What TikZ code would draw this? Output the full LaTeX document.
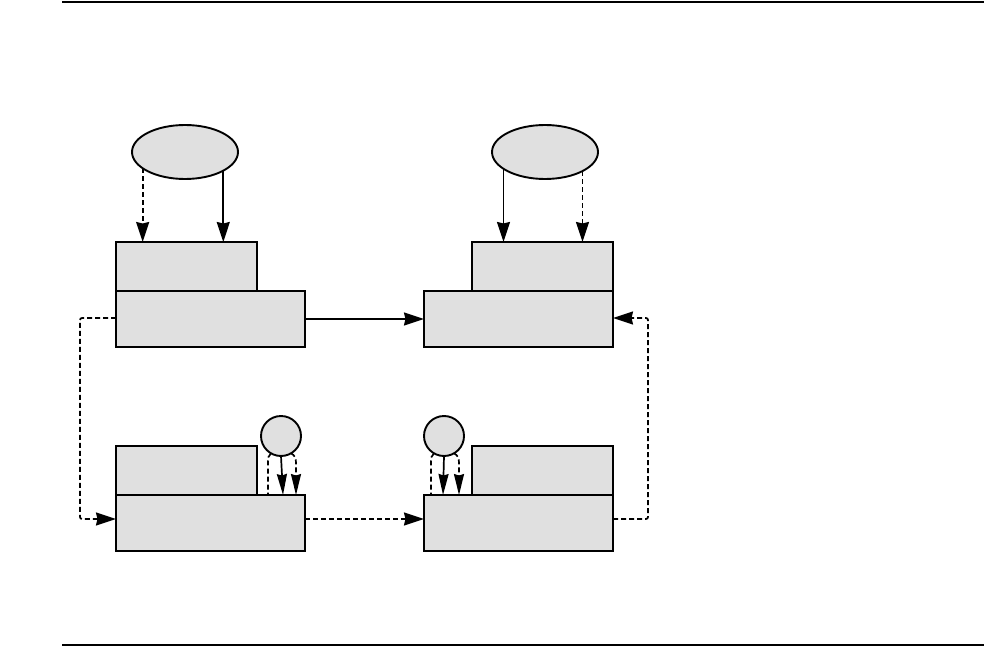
\documentclass[tikz,border=0pt]{standalone}
\usetikzlibrary{shapes.geometric,arrows.meta,calc}
\definecolor{boxfill}{RGB}{224,224,224}
\begin{document}
\begin{tikzpicture}[x=1pt,y=-1pt,
  shp/.style={draw,fill=boxfill,line width=1.9pt,inner sep=0pt,outer sep=0pt},
  smallbox/.style={shp,rectangle,minimum width=141pt,minimum height=49pt},
  bigbox/.style={shp,rectangle,minimum width=189pt,minimum height=56pt},
  oval/.style={shp,ellipse,minimum width=106pt,minimum height=54pt},
  dot/.style={shp,circle,minimum size=40pt},
  conn/.style={line width=1.7pt},
  dsh/.style={conn,dash pattern=on 5pt off 3pt},
  arr/.style={-{Stealth[inset=1.5pt,length=20pt,width=13pt]}},
  sarr/.style={-{Stealth[inset=1.5pt,length=21pt,width=10pt]}},
  rule/.style={line width=1.9pt}]
\useasboundingbox (0,0) rectangle (984,647);
\coordinate (r1a) at (62,2); \coordinate (r1b) at (984,2);
\coordinate (r2a) at (62,645); \coordinate (r2b) at (984,645);
\draw[rule] (r1a) -- (r1b);
\draw[rule] (r2a) -- (r2b);

% top row
\node[oval] (e1) at (185,152) {};
\node[oval] (e2) at (545,152) {};
\node[bigbox] (tlb) at (210.5,319) {};
\node[smallbox] (tls) at (186.5,266.5) {};
\node[bigbox] (trb) at (518.5,319) {};
\node[smallbox] (trs) at (542.5,266.5) {};
% bottom row
\node[bigbox] (blb) at (210.5,523) {};
\node[smallbox] (bls) at (186.5,470.5) {};
\node[bigbox] (brb) at (518.5,523) {};
\node[smallbox] (brs) at (542.5,470.5) {};
\node[dot] (c1) at (281,436) {};
\node[dot] (c2) at (444,436) {};

% ellipse arrows
\draw[dsh,arr] (e1.201.4) -- (e1.201.4 |- tls.north);
\draw[conn,arr] (e1.334.9) -- (e1.334.9 |- tls.north);
\draw[conn,arr] (e2.202.6) -- (e2.202.6 |- trs.north);
\draw[dsh,arr] (e2.333.7) -- (e2.333.7 |- trs.north);

% horizontal connectors
\draw[conn,arr] (tlb.east) -- (trb.west);
\draw[dsh,arr] ($(blb.east)+(0,-4)$) -- ($(brb.west)+(0,-4)$);
\draw[dsh,arr,rounded corners=2pt] ($(tlb.west)+(0,-1)$) -- ++(-36,0) |- ($(blb.west)+(0,-4)$);
\draw[dsh,arr,rounded corners=2pt] ($(brb.east)+(0,-4)$) -- ++(35,0) |- ($(trb.east)+(0,-1)$);

% small circle arrows (left)
\coordinate (k1l) at ($(c1.240)+(-3,10)$);
\coordinate (k1r) at ($(c1.-60)+(5,10)$);
\draw[dsh] (c1.240) .. controls +(-3,2) and +(0,-5) .. (k1l) -- (k1l |- blb.north);
\draw[dsh,sarr] (c1.-60) .. controls +(4,2) and +(0,-5) .. (k1r) -- (k1r |- blb.north);
\draw[conn,sarr] (c1.south) -- ($(c1.south |- blb.north)+(2,0)$);

% small circle arrows (right)
\coordinate (k2l) at ($(c2.240)+(-3,10)$);
\coordinate (k2r) at ($(c2.-60)+(5,10)$);
\draw[dsh] (c2.240) .. controls +(-3,2) and +(0,-5) .. (k2l) -- (k2l |- brb.north);
\draw[dsh,sarr] (c2.-60) .. controls +(4,2) and +(0,-5) .. (k2r) -- (k2r |- brb.north);
\draw[conn,sarr] (c2.south) -- ($(c2.south |- brb.north)+(-1,0)$);
\end{tikzpicture}
\end{document}
